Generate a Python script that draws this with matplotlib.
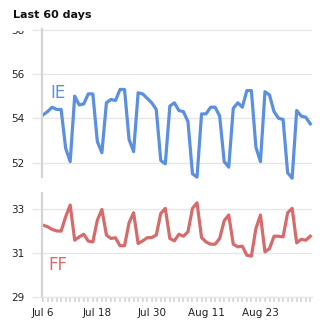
import matplotlib
matplotlib.use("Agg")
import matplotlib.pyplot as plt
from matplotlib.patches import Rectangle
import numpy as np

# ---- data ----
days = list(range(60))  # Jul 6 .. Sep 3
tick_positions = [0, 12, 24, 36, 48]
tick_labels = ["Jul 6", "Jul 18", "Jul 30", "Aug 11", "Aug 23"]

ie_values = [54.15, 54.3, 54.5, 54.4, 54.4, 52.65, 52.05, 55.0, 54.6, 54.65,
             55.1, 55.1, 52.95, 52.45, 54.7, 54.85, 54.8, 55.3, 55.3, 53.05,
             52.5, 55.15, 55.1, 54.9, 54.7, 54.4, 52.1, 51.95, 54.55, 54.7,
             54.35, 54.3, 53.85, 51.5, 51.35, 54.2, 54.2, 54.5, 54.5, 54.1,
             52.05, 51.8, 54.45, 54.7, 54.5, 55.25, 55.25, 52.7, 52.05, 55.2,
             55.05, 54.3, 54.0, 53.95, 51.55, 51.3, 54.35, 54.1, 54.05, 53.75]

ff_values = [32.26, 32.19, 32.07, 32.0, 31.99, 32.64, 33.17, 31.58, 31.73, 31.85,
             31.54, 31.5, 32.49, 32.97, 31.81, 31.66, 31.69, 31.33, 31.33, 32.37,
             32.82, 31.43, 31.55, 31.69, 31.7, 31.81, 32.79, 33.02, 31.66, 31.55,
             31.85, 31.76, 31.96, 33.02, 33.27, 31.7, 31.5, 31.4, 31.4, 31.66,
             32.46, 32.72, 31.4, 31.28, 31.31, 30.9, 30.86, 32.11, 32.72, 31.05,
             31.2, 31.76, 31.76, 31.73, 32.82, 33.02, 31.46, 31.62, 31.58, 31.76]

ie_ticks = [52, 54, 56, 58]
ff_ticks = [29, 31, 33]

# ---- styling ----
W, H = 325, 328
fig = plt.figure(figsize=(W / 100, H / 100), dpi=100)
fig.patch.set_facecolor("white")

blue = "#5b8fdf"
red = "#d66b6b"
grid_c = "#e6e6e6"
spine_c = "#d4d4d4"
text_c = "#222222"

def px_axes(left, top, right, bottom):
    return fig.add_axes([left / W, 1 - bottom / H, (right - left) / W, (bottom - top) / H])

x0_px, x_per_day = 43.0, 4.53
xlim = ((42 - x0_px) / x_per_day, (312 - x0_px) / x_per_day)

ax1 = px_axes(42, 29.3, 312, 176.7)
ax2 = px_axes(42, 193.3, 312, 297.3)

for ax in (ax1, ax2):
    ax.set_facecolor("white")
    ax.set_xlim(*xlim)
    for s in ("top", "right"):
        ax.spines[s].set_visible(False)
    ax.spines["left"].set_color(spine_c)
    ax.spines["left"].set_linewidth(1.6)
    ax.grid(axis="y", color=grid_c, linewidth=1.0)
    ax.set_axisbelow(True)
    ax.tick_params(axis="y", length=7.2, width=1.0, color=grid_c, labelsize=7.5,
                   labelcolor=text_c, pad=5.5)

# top panel
ax1.plot(days, ie_values, color=blue, linewidth=2.3, solid_joinstyle="round", clip_on=False)
ax1.set_ylim(51.37, 58.01)
ax1.set_yticks(ie_ticks)
ax1.spines["bottom"].set_visible(False)
ax1.tick_params(axis="x", bottom=False, labelbottom=False)
ax1.text(0.032, 0.536, "IE", transform=ax1.transAxes, color=blue, fontsize=12,
         va="baseline", ha="left")

# bottom panel
ax2.plot(days, ff_values, color=red, linewidth=2.3, solid_joinstyle="round", clip_on=False)
ax2.set_ylim(29, 33.7)
ax2.set_yticks(ff_ticks)
ax2.spines["bottom"].set_color(grid_c)
ax2.spines["bottom"].set_linewidth(1.0)
ax2.set_xticks(tick_positions)
ax2.set_xticklabels(tick_labels)
ax2.set_xticks(days, minor=True)
ax2.tick_params(axis="x", which="both", length=3.4, width=1.2, color=spine_c,
                labelsize=7.5, labelcolor=text_c, pad=4.5)
ax2.text(0.022, 0.2625, "FF", transform=ax2.transAxes, color=red, fontsize=12,
         va="baseline", ha="left")

# title block (covers most of the "58" label)
cover = Rectangle((0, 1 - 30.8 / H), 31 / W, 30.8 / H, transform=fig.transFigure,
                  facecolor="white", edgecolor="none", zorder=5)
fig.add_artist(cover)
fig.text(12.7 / W, 1 - 18.3 / H, "Last 60 days", fontsize=8, fontweight="bold",
         color="#111111", va="baseline", ha="left", zorder=6)

fig.savefig("out.png", dpi=100, facecolor="white")
